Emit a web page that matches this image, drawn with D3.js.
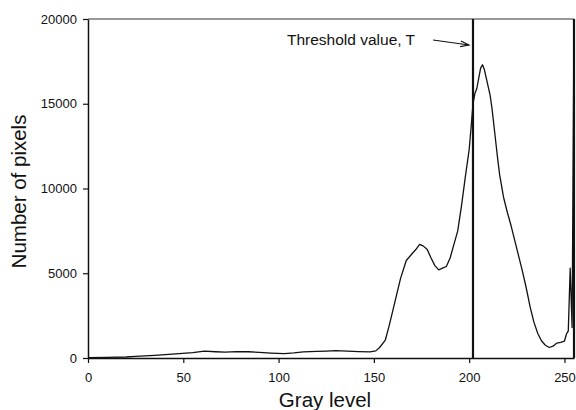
<!DOCTYPE html>
<html>
<head>
<meta charset="utf-8">
<script src="https://cdn.jsdelivr.net/npm/d3@7"></script>
<style>
  html, body { margin: 0; padding: 0; background: #fff; }
  svg { display: block; font-family: "Liberation Sans", Arial, Helvetica, sans-serif; }
</style>
</head>
<body>
<svg id="chart" width="576" height="410"></svg>
<script>
// ---- data ----
const grayLevels = [0, 10, 20, 25, 35, 46, 55, 61, 67, 72, 78, 84, 90, 96, 103, 108, 113, 120, 125, 130,
  136, 142, 148, 151, 153, 156, 158, 161, 164, 167, 170, 172, 174, 176, 178, 180, 182, 184, 186, 188,
  190, 192, 194, 196, 198, 200, 201, 202, 203, 204, 205, 206, 207, 208, 209, 210, 211, 212, 213, 214,
  215, 216, 218, 220, 222, 224, 226, 228, 230, 232, 234, 236, 238, 240, 242, 244, 246, 248, 250, 251, 252,
  253, 254, 255];
const pixelCounts = [20, 40, 60, 100, 160, 240, 320, 400, 370, 350, 380, 370, 330, 290, 260, 300, 360, 390, 410, 430,
  400, 380, 360, 420, 620, 1060, 1900, 3300, 4700, 5750, 6150, 6400, 6700, 6600, 6400, 5900, 5450, 5200, 5300, 5400,
  5900, 6700, 7500, 9000, 10700, 12300, 13600, 15000, 15600, 15900, 16500, 17100, 17300, 17000, 16500, 16000, 15500, 14700, 13700, 12700,
  11700, 10800, 9500, 8600, 7800, 6900, 6000, 5100, 4100, 3000, 2100, 1450, 1000, 750, 620, 700, 880, 920, 1000, 1400, 1600,
  5300, 1800, 20000];
const xTicks = [0, 50, 100, 150, 200, 250];
const yTicks = [0, 5000, 10000, 15000, 20000];
const thresholdT = [202];
const annotationText = ["Threshold value, T"];
const xTitle = "Gray level";
const yTitle = "Number of pixels";

// ---- layout ----
const W = 576, H = 410;
const margin = { left: 88, top: 19, right: 2, bottom: 52 };
const svg = d3.select("#chart");

const x = d3.scaleLinear().domain([0, 255]).range([margin.left, W - margin.right]);
const y = d3.scaleLinear().domain([0, 20000]).range([H - margin.bottom, margin.top]);

svg.append("defs").append("clipPath").attr("id", "plotclip")
  .append("rect")
  .attr("x", x(0)).attr("y", y(20000))
  .attr("width", x(255) - x(0) + 2).attr("height", y(0) - y(20000));

// frame: top and right borders
svg.append("line")
  .attr("x1", x(0)).attr("x2", x(255))
  .attr("y1", y(20000)).attr("y2", y(20000))
  .attr("stroke", "#333").attr("stroke-width", 1);
svg.append("line")
  .attr("x1", x(255)).attr("x2", x(255))
  .attr("y1", y(20000)).attr("y2", y(0))
  .attr("stroke", "#111").attr("stroke-width", 2.2);

// axes
const fmt = d3.format("d");
const xAxis = d3.axisBottom(x).tickValues(xTicks).tickFormat(fmt).tickSize(5).tickPadding(10).tickSizeOuter(0);
const yAxis = d3.axisLeft(y).tickValues(yTicks).tickFormat(fmt).tickSize(5).tickPadding(6).tickSizeOuter(0);

const gx = svg.append("g").attr("transform", `translate(0,${y(0)})`).call(xAxis);
const gy = svg.append("g").attr("transform", `translate(${x(0)},0)`).call(yAxis);

[gx, gy].forEach(g => {
  g.select(".domain").attr("stroke", "#111").attr("stroke-width", 1.5);
  g.selectAll(".tick line").attr("stroke", "#111").attr("stroke-width", 1.2);
  g.selectAll(".tick text")
    .attr("fill", "#111")
    .style("font-family", "'Liberation Sans', Arial, Helvetica, sans-serif")
    .style("font-size", "13px");
});

// histogram curve
const pts = grayLevels.map((g, i) => [g, pixelCounts[i]]);
const line = d3.line().x(d => x(d[0])).y(d => y(d[1]));
svg.append("path")
  .datum(pts)
  .attr("clip-path", "url(#plotclip)")
  .attr("d", line)
  .attr("fill", "none")
  .attr("stroke", "#111")
  .attr("stroke-width", 1.3)
  .attr("stroke-linejoin", "round");

// threshold line
svg.selectAll(".thr").data(thresholdT).enter().append("line")
  .attr("class", "thr")
  .attr("x1", d => x(d)).attr("x2", d => x(d))
  .attr("y1", y(20000)).attr("y2", y(0))
  .attr("stroke", "#111").attr("stroke-width", 2.2);

// annotation
const tx = thresholdT[0];
svg.append("text")
  .attr("x", x(tx) - 186).attr("y", y(20000) + 26)
  .attr("font-size", 15.5)
  .attr("fill", "#111")
  .text(annotationText[0]);

// arrow
const ax1 = x(tx) - 40, ay1 = y(20000) + 21;
const ax2 = x(tx) - 4, ay2 = y(20000) + 26;
svg.append("line")
  .attr("x1", ax1).attr("y1", ay1).attr("x2", ax2).attr("y2", ay2)
  .attr("stroke", "#111").attr("stroke-width", 1.1);
const ang = Math.atan2(ay2 - ay1, ax2 - ax1);
const hl = 9, ha = 0.32;
svg.append("path")
  .attr("d", `M${ax2 - hl * Math.cos(ang - ha)},${ay2 - hl * Math.sin(ang - ha)} L${ax2},${ay2} L${ax2 - hl * Math.cos(ang + ha)},${ay2 - hl * Math.sin(ang + ha)}`)
  .attr("fill", "none").attr("stroke", "#111").attr("stroke-width", 1.1);

// axis titles
svg.append("text")
  .attr("x", (x(0) + x(255)) / 2 - 6)
  .attr("y", 407)
  .attr("text-anchor", "middle")
  .attr("font-size", 20.5)
  .attr("fill", "#111")
  .text(xTitle);

svg.append("text")
  .attr("transform", `translate(26,${(y(0) + y(20000)) / 2 + 3}) rotate(-90)`)
  .attr("text-anchor", "middle")
  .attr("font-size", 20.5)
  .attr("fill", "#111")
  .text(yTitle);
</script>
</body>
</html>
